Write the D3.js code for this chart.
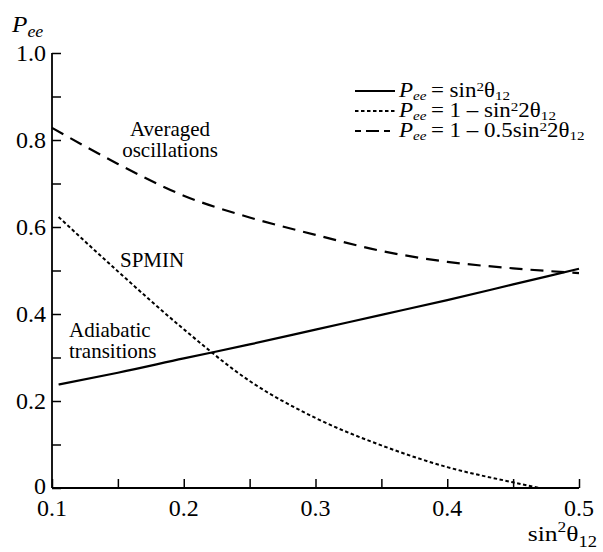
<!DOCTYPE html>
<html>
<head>
<meta charset="utf-8">
<script src="https://cdn.jsdelivr.net/npm/d3@7"></script>
<style>
  html, body { margin: 0; padding: 0; background: #fff; }
  svg { display: block; }
</style>
</head>
<body>
<div id="chart"></div>
<script>
// Survival probability P_ee versus sin^2(theta_12)
const xTicks = [0.1, 0.2, 0.3, 0.4, 0.5];
const xMinorTicks = [0.15, 0.25, 0.35, 0.45];
const xTickLabels = ["0.1", "0.2", "0.3", "0.4", "0.5"];
const yTicks = [0, 0.2, 0.4, 0.6, 0.8, 1.0];
const yMinorTicks = [0.1, 0.3, 0.5, 0.7, 0.9];
const yTickLabels = ["0", "0.2", "0.4", "0.6", "0.8", "1.0"];

// Adiabatic transitions: P_ee = sin^2 theta_12
const adiabaticX = [0.105, 0.15, 0.2, 0.25, 0.3, 0.35, 0.4, 0.45, 0.5];
const adiabaticY = [0.238, 0.265, 0.298, 0.330, 0.364, 0.398, 0.432, 0.468, 0.504];

// SPMIN: P_ee = 1 - sin^2 2theta_12
const spminX = [0.105, 0.15, 0.2, 0.25, 0.3, 0.35, 0.4, 0.45, 0.47];
const spminY = [0.623, 0.498, 0.365, 0.246, 0.161, 0.098, 0.048, 0.013, 0.0];

// Averaged oscillations: P_ee = 1 - 0.5 sin^2 2theta_12
const averagedX = [0.1, 0.15, 0.2, 0.25, 0.3, 0.35, 0.4, 0.45, 0.5];
const averagedY = [0.828, 0.745, 0.672, 0.622, 0.582, 0.545, 0.520, 0.505, 0.494];

const W = 603, H = 552;
const FONT = '"Liberation Serif"';
const svg = d3.select("#chart").append("svg")
  .attr("width", W).attr("height", H)
  .style("font-family", FONT);

const x = d3.scaleLinear().domain([0.1, 0.5]).range([52, 579]);
const y = d3.scaleLinear().domain([0, 1]).range([488, 53]);

// Axes: ticks point inward
const xAxis = d3.axisTop(x).tickValues(xTicks.concat(xMinorTicks)).tickSize(9).tickFormat("");
const yAxis = d3.axisRight(y).tickValues(yTicks.concat(yMinorTicks)).tickSize(9).tickFormat("");

const gx = svg.append("g").attr("transform", `translate(0,${y(0)})`).call(xAxis);
const gy = svg.append("g").attr("transform", `translate(${x(0.1)},0)`).call(yAxis);
[gx, gy].forEach(g => {
  g.attr("font-family", null);
  g.select(".domain").attr("stroke", "#000").attr("stroke-width", 1.8);
  g.selectAll(".tick line").attr("stroke", "#000").attr("stroke-width", 1.5);
});
gy.select(".domain").attr("d", `M0,${y(1)}V${y(0)}`);
gx.select(".domain").attr("d", `M${x(0.1)},0H${x(0.5)}`);

// Tick labels
svg.append("g").selectAll("text").data(xTicks).join("text")
  .style("font-family", FONT)
  .attr("x", d => x(d)).attr("y", 516)
  .attr("text-anchor", "middle").attr("font-size", 24)
  .text((d, i) => xTickLabels[i]);
svg.append("g").selectAll("text").data(yTicks).join("text")
  .style("font-family", FONT)
  .attr("x", 46).attr("y", d => y(d) + (d === 0 ? 6 : 8))
  .attr("text-anchor", "end").attr("font-size", 24)
  .text((d, i) => yTickLabels[i]);

// Text placed at (px, py), slightly widened horizontally
function wideText(px, py, sx, size, anchor) {
  return svg.append("g")
    .attr("transform", `translate(${px},${py}) scale(${sx},1)`)
    .append("text").style("font-family", FONT)
    .attr("font-size", size).attr("text-anchor", anchor || "start");
}

// Axis titles
const yTitle = wideText(12, 32, 1.05, 24);
yTitle.append("tspan").attr("font-style", "italic").text("P");
yTitle.append("tspan").attr("font-style", "italic").attr("font-size", 17).attr("dy", 5).text("ee");

const xTitle = wideText(597, 541, 1.16, 22, "end");
xTitle.append("tspan").text("sin");
xTitle.append("tspan").attr("font-size", 15).attr("dy", -9).text("2");
xTitle.append("tspan").attr("dy", 9).text("θ");
xTitle.append("tspan").attr("font-size", 16).attr("dy", 6).text("12");

// Curves
const line = d3.line().x(d => x(d[0])).y(d => y(d[1])).curve(d3.curveMonotoneX);
const series = [
  { xs: adiabaticX, ys: adiabaticY, dash: null, width: 2.2 },
  { xs: spminX, ys: spminY, dash: "3.5,2.5", width: 2 },
  { xs: averagedX, ys: averagedY, dash: "13,8", width: 2.2 }
];
series.forEach(s => {
  svg.append("path")
    .datum(s.xs.map((v, i) => [v, s.ys[i]]))
    .attr("fill", "none").attr("stroke", "#000")
    .attr("stroke-width", s.width)
    .attr("stroke-dasharray", s.dash)
    .attr("d", line);
});

// Region annotations
function note(lines, xPos, yPos, anchor) {
  const t = svg.append("text").style("font-family", FONT).attr("font-size", 21).attr("text-anchor", anchor);
  lines.forEach((l, i) => t.append("tspan").attr("x", xPos).attr("y", yPos + i * 21).text(l));
}
note(["Averaged", "oscillations"], 170, 136, "middle");
note(["SPMIN"], 120, 267, "start");
note(["Adiabatic", "transitions"], 69, 337, "start");

// Legend
const legendRows = [
  { dash: null, width: 2.2, lhs: "= sin", mid: "θ" },
  { dash: "3.5,2.5", width: 2, lhs: "= 1 – sin", mid: "2θ" },
  { dash: "6,5,13,5", width: 2.2, lhs: "= 1 – 0.5sin", mid: "2θ" }
];
legendRows.forEach((r, i) => {
  const by = 97 + i * 20;
  svg.append("line")
    .attr("x1", 355).attr("x2", 395).attr("y1", by - 6).attr("y2", by - 6)
    .attr("stroke", "#000").attr("stroke-width", r.width)
    .attr("stroke-dasharray", r.dash);
  const t = wideText(399, by, 1.12, 20.5);
  t.append("tspan").attr("font-style", "italic").text("P");
  t.append("tspan").attr("font-style", "italic").attr("font-size", 13.5).attr("dy", 3).text("ee");
  t.append("tspan").attr("dx", 4).attr("dy", -3).text(r.lhs);
  t.append("tspan").attr("font-size", 13.5).attr("dy", -6).text("2");
  t.append("tspan").attr("dy", 6).text(r.mid);
  t.append("tspan").attr("font-size", 13.5).attr("dy", 2.5).text("12");
});
</script>
</body>
</html>
